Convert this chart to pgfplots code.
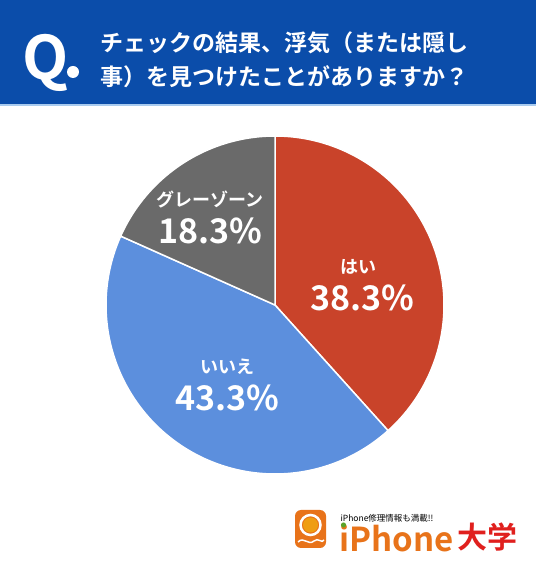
\documentclass[border=0pt]{standalone}
\usepackage{pgfplots}
\pgfplotsset{compat=1.18}
\usepackage{pgfplotstable}
\usepackage{fontspec}
\setmainfont{Noto Sans CJK JP}[BoldFont={Noto Sans CJK JP Bold}]
\definecolor{hdr}{HTML}{0B4DAA}
\definecolor{hdrline}{HTML}{A9CBEF}
\definecolor{cred}{HTML}{C9432A}
\definecolor{cblue}{HTML}{5C8FDD}
\definecolor{cgray}{HTML}{6A6A6A}
\definecolor{lgorange}{HTML}{E8731A}
\definecolor{lgred}{HTML}{E0201E}
\definecolor{lggreen}{HTML}{5BA32B}

\pgfplotstableread{
label value
hai 38.3
iie 43.3
gray 18.3
}\piedata

\pgfplotstablegetelem{0}{value}\of\piedata \let\va\pgfplotsretval
\pgfplotstablegetelem{1}{value}\of\piedata \let\vb\pgfplotsretval
\pgfplotstablegetelem{2}{value}\of\piedata \let\vc\pgfplotsretval
\pgfmathsetmacro{\tot}{\va+\vb+\vc}
\pgfmathsetmacro{\aA}{90}
\pgfmathsetmacro{\aB}{90-360*\va/\tot}
\pgfmathsetmacro{\aC}{\aB-360*\vb/\tot}
\pgfmathsetmacro{\aD}{-270}

\begin{document}
\begin{tikzpicture}
\begin{axis}[
  scale only axis, width=536pt, height=572pt,
  xmin=0, xmax=536, ymin=0, ymax=572,
  hide axis, clip=false,
]
% background and header
\fill[white] (axis cs:0,0) rectangle (axis cs:536,572);
\fill[hdr] (axis cs:0,467) rectangle (axis cs:536,572);
\fill[hdrline] (axis cs:0,466) rectangle (axis cs:536,467.5);
\node[white, font=\bfseries\fontsize{60}{60}\selectfont, anchor=base west, inner sep=0pt] at (axis cs:22,492) {Q};
\fill[white] (axis cs:73,500) circle[radius=6];
\node[white, font=\bfseries\fontsize{23}{23}\selectfont, anchor=west] at (axis cs:97,529) {チェックの結果、浮気（または隠し};
\node[white, font=\bfseries\fontsize{23}{23}\selectfont, anchor=west] at (axis cs:97,495) {事）を見つけたことがありますか？};

% pie slices
\addplot[fill=cred, draw=white, line width=1.5pt, domain=\aB:\aA, samples=120]
  ({275+169*cos(x)},{267+169*sin(x)}) -- (axis cs:275,267) -- cycle;
\addplot[fill=cblue, draw=white, line width=1.5pt, domain=\aC:\aB, samples=120]
  ({275+169*cos(x)},{267+169*sin(x)}) -- (axis cs:275,267) -- cycle;
\addplot[fill=cgray, draw=white, line width=1.5pt, domain=\aD:\aC, samples=80]
  ({275+169*cos(x)},{267+169*sin(x)}) -- (axis cs:275,267) -- cycle;

% labels
\node[white, font=\bfseries\fontsize{18}{18}\selectfont] at (axis cs:358,305) {はい};
\node[white, font=\bfseries\fontsize{34}{34}\selectfont] at (axis cs:362,274) {\va\%};
\node[white, font=\bfseries\fontsize{18}{18}\selectfont] at (axis cs:210,372) {グレーゾーン};
\node[white, font=\bfseries\fontsize{34}{34}\selectfont] at (axis cs:210,341) {\vc\%};
\node[white, font=\bfseries\fontsize{18}{18}\selectfont] at (axis cs:227,205) {いいえ};
\node[white, font=\bfseries\fontsize{34}{34}\selectfont] at (axis cs:227,174) {\vb\%};

% logo
\fill[lgorange, rounded corners=6pt] (axis cs:295,24) rectangle (axis cs:326,62);
\draw[white, line width=2.5pt] (axis cs:310.5,47) circle[radius=10];
\fill[lgorange!70!yellow] (axis cs:310.5,47) circle[radius=7.5];
\draw[white, line width=1.5pt] (axis cs:298,30) .. controls (axis cs:304,36) and (axis cs:308,26) .. (axis cs:314,31) .. controls (axis cs:318,35) and (axis cs:322,28) .. (axis cs:324,32);
\node[black, font=\fontsize{8.5}{8.5}\selectfont, anchor=west] at (axis cs:337,54) {iPhone修理情報も満載!!};
\node[lgorange, font=\bfseries\fontsize{33}{33}\selectfont, anchor=west, inner sep=0pt] at (axis cs:339,34) {iPhone};
\fill[lggreen] (axis cs:343.5,47) circle[radius=2.6];
\node[lgred, font=\bfseries\fontsize{30}{30}\selectfont, anchor=west, inner sep=0pt] at (axis cs:457,35) {大学};
\end{axis}
\end{tikzpicture}
\end{document}
